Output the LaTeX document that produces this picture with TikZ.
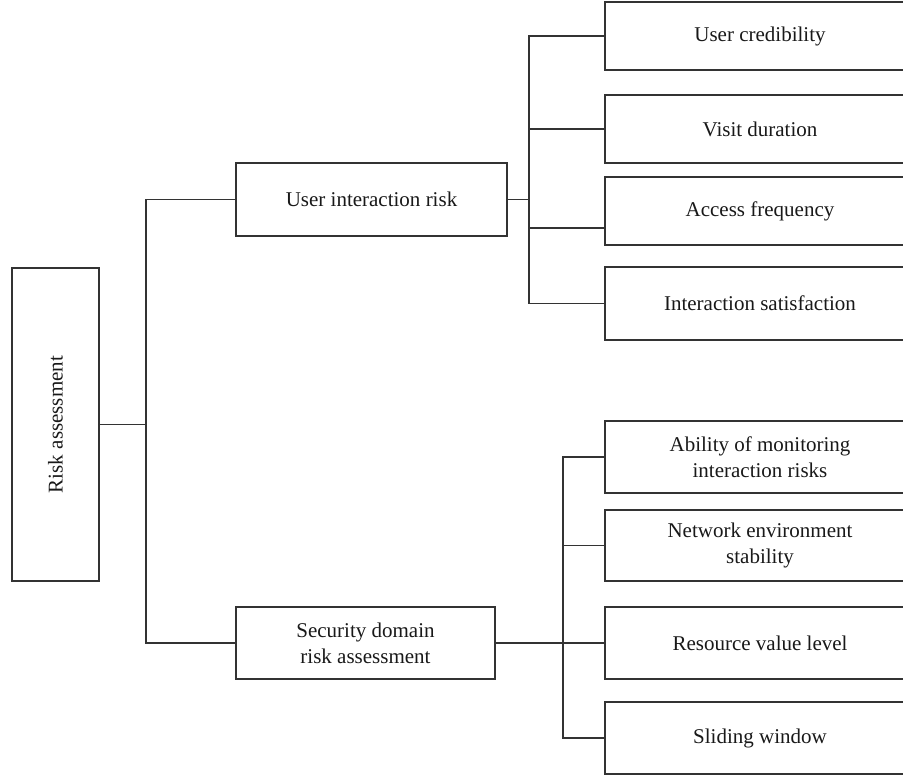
\documentclass[tikz,border=0pt]{standalone}
\usepackage{fontspec}
\setmainfont{Liberation Serif}
\tikzset{
	box/.style = {draw = black!80, line width = .6pt, fill = white, inner sep = 0pt, outer sep = 0pt,
		align = center, text = black!90, font = \fontsize{10.5}{13}\selectfont},
	leaf/.style = {box, minimum width = 155pt},
	link/.style = {draw = black!80, line width = .6pt}
}
\begin{document}
\begin{tikzpicture}[x = .5pt, y = -.5pt]
	\useasboundingbox (0, 0) rectangle (903, 776);
	
	% 根
	\node [box, minimum width = 43.5pt, minimum height = 156.5pt] (risk) at (55.5, 424.5) {\rotatebox{90}{Risk assessment}};
	
	% 中间一列
	\node [box, minimum width = 135.5pt, minimum height = 36.5pt] (uir) at (371.5, 199.5) {User interaction risk};
	\node [box, minimum width = 129.5pt, minimum height = 36pt] (sd) at (365.5, 643) {Security domain\\risk assessment};
	
	% 右上
	\node [leaf, minimum height = 34pt] (cred) at (760, 36) {User credibility};
	\node [leaf, minimum height = 34pt] (visit) at (760, 129) {Visit duration};
	\node [leaf, minimum height = 34pt] (acc) at (760, 211) {Access frequency};
	\node [leaf, minimum height = 36.5pt] (satis) at (760, 303.5) {Interaction satisfaction};
	
	% 右下
	\node [leaf, minimum height = 36pt] (mon) at (760, 457) {Ability of monitoring\\interaction risks};
	\node [leaf, minimum height = 35.5pt] (net) at (760, 545.5) {Network environment\\stability};
	\node [leaf, minimum height = 36pt] (res) at (760, 643) {Resource value level};
	\node [leaf, minimum height = 36pt] (slide) at (760, 738) {Sliding window};
	
	% lines
	\draw [link] (risk.east) -- ++(47, 0) |- (uir.west);
	\draw [link] (risk.east) -- ++(47, 0) |- (sd.west);
	
	\draw [link] (uir.east) -- ++(22, 0) |- (cred.west);
	\draw [link] (uir.east) -- ++(22, 0) |- (visit.west);
	\draw [link] (uir.east) -- ++(22, 0) |- ([yshift = -8.5pt]acc.west);
	\draw [link] (uir.east) -- ++(22, 0) |- (satis.west);
	
	\draw [link] (sd.east) -- ++(68, 0) |- (mon.west);
	\draw [link] (sd.east) -- ++(68, 0) |- (net.west);
	\draw [link] (sd.east) -- ++(68, 0) |- (res.west);
	\draw [link] (sd.east) -- ++(68, 0) |- (slide.west);
\end{tikzpicture}
\end{document}
